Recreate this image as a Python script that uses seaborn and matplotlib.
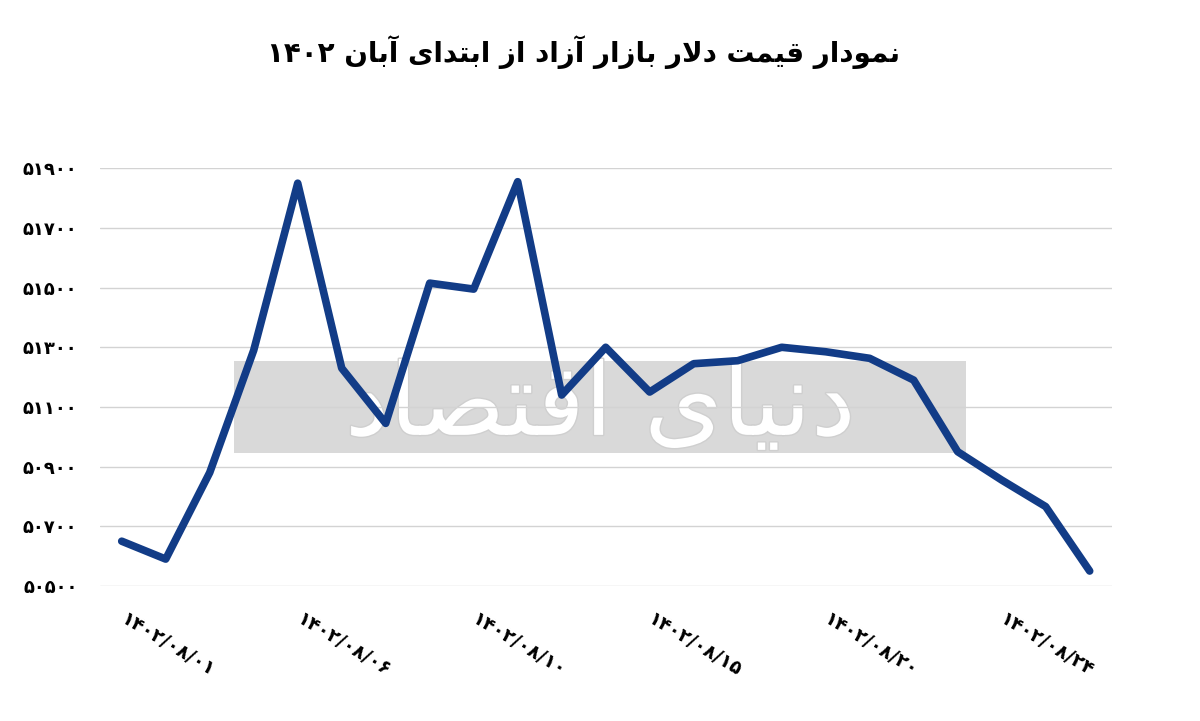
import re
import numpy as np
import pandas as pd
import seaborn as sns
import matplotlib.pyplot as plt
import matplotlib.patheffects as pe
from matplotlib.patches import Rectangle

# trading days of Aban 1402 (Fridays skipped)
dates = ["1402/08/01", "1402/08/02", "1402/08/03", "1402/08/04", "1402/08/06",
         "1402/08/07", "1402/08/08", "1402/08/09", "1402/08/10", "1402/08/11",
         "1402/08/13", "1402/08/14", "1402/08/15", "1402/08/16", "1402/08/17",
         "1402/08/18", "1402/08/20", "1402/08/21", "1402/08/22", "1402/08/23",
         "1402/08/24", "1402/08/25", "1402/08/27"]
prices = [50650, 50590, 50880, 51290, 51850, 51230, 51045, 51515, 51495, 51855,
          51140, 51300, 51150, 51245, 51255, 51300, 51285, 51263, 51190, 50950,
          50855, 50766, 50550]
label_every = 4
y_ticks = [50500, 50700, 50900, 51100, 51300, 51500, 51700, 51900]

title = "نمودار قیمت دلار بازار آزاد از ابتدای آبان ۱۴۰۲"
watermark = "دنیای اقتصاد"

FA_DIGITS = str.maketrans("0123456789", "۰۱۲۳۴۵۶۷۸۹")

# isolated, final, initial, medial
FORMS = {
    "ا": ("\uFE8D", "\uFE8E", None, None),
    "آ": ("\uFE81", "\uFE82", None, None),
    "ب": ("\uFE8F", "\uFE90", "\uFE91", "\uFE92"),
    "ت": ("\uFE95", "\uFE96", "\uFE97", "\uFE98"),
    "د": ("\uFEA9", "\uFEAA", None, None),
    "ر": ("\uFEAD", "\uFEAE", None, None),
    "ز": ("\uFEAF", "\uFEB0", None, None),
    "ص": ("\uFEB9", "\uFEBA", "\uFEBB", "\uFEBC"),
    "ق": ("\uFED5", "\uFED6", "\uFED7", "\uFED8"),
    "ل": ("\uFEDD", "\uFEDE", "\uFEDF", "\uFEE0"),
    "م": ("\uFEE1", "\uFEE2", "\uFEE3", "\uFEE4"),
    "ن": ("\uFEE5", "\uFEE6", "\uFEE7", "\uFEE8"),
    "و": ("\uFEED", "\uFEEE", None, None),
    "ی": ("\uFBFC", "\uFBFD", "\uFBFE", "\uFBFF"),
    "لا": ("\uFEFB", "\uFEFC", None, None),
    "لآ": ("\uFEF5", "\uFEF6", None, None),
}


def shape_fa(text):
    # join letters and put them in visual (left to right) order
    tokens = []
    i = 0
    while i < len(text):
        if text[i] == "ل" and i + 1 < len(text) and text[i + 1] in "اآ":
            tokens.append(text[i:i + 2])
            i += 2
        else:
            tokens.append(text[i])
            i += 1
    out = []
    for i, t in enumerate(tokens):
        if t not in FORMS:
            out.append(t)
            continue
        prev = tokens[i - 1] if i > 0 else None
        nxt = tokens[i + 1] if i + 1 < len(tokens) else None
        jp = prev in FORMS and FORMS[prev][2] is not None
        jn = FORMS[t][2] is not None and nxt in FORMS
        isol, fin, init, med = FORMS[t]
        out.append(med if jp and jn else fin if jp else init if jn else isol)
    visual = "".join(reversed(out))
    return re.sub("[۰-۹]+", lambda m: m.group(0)[::-1], visual)


df = pd.DataFrame({"date": dates, "price": prices})
df["pos"] = np.arange(len(df))

sns.set_style("white")
plt.rcParams["font.family"] = ["DejaVu Sans"]

fig = plt.figure(figsize=(12, 7.21), dpi=100)
ax = fig.add_axes([0.0831, 0.1873, 0.8433, 0.5793])
ax.set_facecolor("none")
ax.set_zorder(2)

# watermark band behind the chart
fig.patches.append(Rectangle((0.195, 0.372), 0.61, 0.128, transform=fig.transFigure,
                             facecolor="#D9D9D9", edgecolor="none", zorder=0))
fig.text(0.5, 0.435, shape_fa(watermark), ha="center", va="center", fontsize=72,
         color="white", zorder=0.5,
         path_effects=[pe.withStroke(linewidth=2, foreground="#CFCFCF")])

sns.lineplot(data=df, x="pos", y="price", ax=ax, color="#123C87", linewidth=5.5,
             solid_joinstyle="round", solid_capstyle="round", zorder=3)

ax.set_xlim(-0.5, len(df) - 0.5)
ax.set_ylim(y_ticks[0], y_ticks[-1])
ax.set_yticks(y_ticks)
ax.set_yticklabels([str(v).translate(FA_DIGITS) for v in y_ticks],
                   fontsize=13, fontweight="bold", color="black")
ax.set_xticks(df["pos"][::label_every])
ax.set_xticklabels([d.translate(FA_DIGITS) for d in df["date"][::label_every]],
                   fontsize=13.5, fontweight="bold", color="black", rotation=-31,
                   ha="left", va="center", rotation_mode="anchor")
ax.tick_params(axis="y", length=0, pad=16)
ax.tick_params(axis="x", length=0, pad=23)
ax.grid(axis="y", color="#D3D3D3", linewidth=1)
ax.grid(axis="x", visible=False)
ax.set_xlabel("")
ax.set_ylabel("")
sns.despine(ax=ax, left=True, bottom=True)

fig.text(0.486, 1 - 52 / 721, shape_fa(title), ha="center", va="center",
         fontsize=20, fontweight="bold", color="black")

fig.savefig("out.png", dpi=100, facecolor="white")
